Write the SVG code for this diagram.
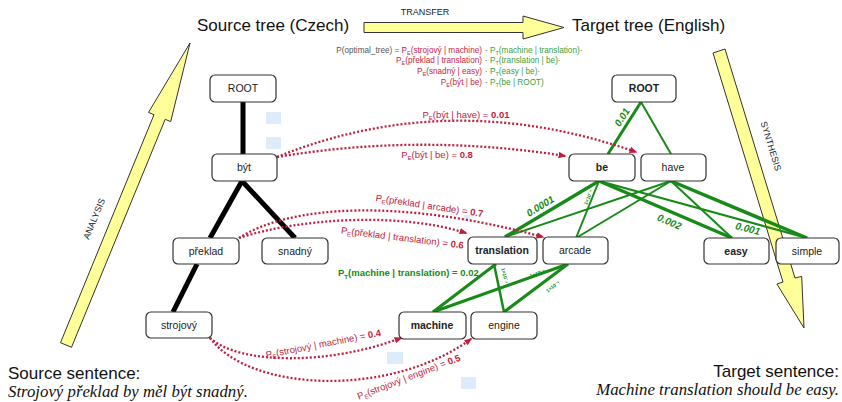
<svg xmlns="http://www.w3.org/2000/svg" width="842" height="402" viewBox="0 0 842 402">
<defs>
<style>
.node rect{fill:#fff;stroke:#333;stroke-width:1.2}
.node text{font-family:"Liberation Sans",Arial,sans-serif;font-size:10.5px;fill:#222;text-anchor:middle}
.b text{font-weight:bold}
.big{font-family:"Liberation Sans",Arial,sans-serif;font-size:17px;fill:#111}
.it{font-family:"Liberation Serif","Times New Roman",serif;font-style:italic;font-size:16.8px;fill:#111}
.sm{font-family:"Liberation Sans",Arial,sans-serif;font-size:9px;fill:#222}
.f{font-family:"Liberation Sans",Arial,sans-serif;font-size:8.2px}
.fr{fill:#c4264a}
.fg{fill:#3a9e3a}
.fk{fill:#555}
.rl{font-family:"Liberation Sans",Arial,sans-serif;font-size:9.5px;fill:#bf1e3f;text-anchor:middle}
.gl{font-family:"Liberation Sans",Arial,sans-serif;font-size:10px;font-weight:bold;font-style:italic;fill:#178a17;text-anchor:middle}
.gs{font-family:"Liberation Sans",Arial,sans-serif;font-size:5px;font-weight:bold;fill:#178a17;text-anchor:middle}
.blk{stroke:#000;stroke-width:5;fill:none}
.gr{stroke:#178a17;fill:none}
.dot{stroke:#bf1e3f;stroke-width:2.3;stroke-dasharray:2 2;fill:none;marker-end:url(#ra)}
.yel{fill:#ffff99;stroke:#333;stroke-width:1}
.sq{fill:#deebfa}
</style>
<marker id="ra" viewBox="0 0 10 10" refX="8" refY="5" markerWidth="8" markerHeight="8" markerUnits="userSpaceOnUse" orient="auto">
<path d="M0,1 L10,5 L0,9 z" fill="#bf1e3f"/>
</marker>
</defs>
<rect width="842" height="402" fill="#fff"/>

<!-- big yellow arrows -->
<g id="arrows">
<polygon class="yel" points="60.5,342.7 154,114.7 148.5,112.4 190,43 170.7,121.6 165.2,119.3 71.5,347.3"/>
<polygon class="yel" points="364,22.5 523,22.5 523,16 564,27.5 523,39 523,32.5 364,32.5"/>
<polygon class="yel" points="713,53 725,49 795,278 801.7,276.4 804,328 776.9,284 783,282"/>
<text class="sm" transform="translate(97,220) rotate(-67.7)" text-anchor="middle">ANALYSIS</text>
<text class="sm" x="425" y="15" text-anchor="middle">TRANSFER</text>
<text class="sm" transform="translate(768,147) rotate(73)" text-anchor="middle">SYNTHESIS</text>
</g>

<!-- headings -->
<text class="big" x="197" y="31">Source tree (Czech)</text>
<text class="big" x="572" y="31" font-size="17.5">Target tree (English)</text>
<text class="big" x="8" y="379">Source sentence:</text>
<text class="it" x="8" y="397">Strojový překlad by měl být snadný.</text>
<text class="big" x="839" y="377" text-anchor="end">Target sentence:</text>
<text class="it" x="839" y="395" text-anchor="end">Machine translation should be easy.</text>

<!-- formula -->
<g id="formula" class="f">
<text x="482" y="52.5" text-anchor="end"><tspan class="fk">P(optimal_tree) =  </tspan><tspan class="fr">P<tspan font-size="5.5" dy="2">E</tspan><tspan dy="-2">(strojový | machine)</tspan></tspan></text>
<text x="482" y="63.2" text-anchor="end" class="fr">P<tspan font-size="5.5" dy="2">E</tspan><tspan dy="-2">(překlad | translation)</tspan></text>
<text x="482" y="73.9" text-anchor="end" class="fr">P<tspan font-size="5.5" dy="2">E</tspan><tspan dy="-2">(snadný | easy)</tspan></text>
<text x="482" y="84.6" text-anchor="end" class="fr">P<tspan font-size="5.5" dy="2">E</tspan><tspan dy="-2">(být | be)</tspan></text>
<text x="486" y="52.5" class="fk" text-anchor="middle">·</text>
<text x="486" y="63.2" class="fk" text-anchor="middle">·</text>
<text x="486" y="73.9" class="fk" text-anchor="middle">·</text>
<text x="486" y="84.6" class="fk" text-anchor="middle">·</text>
<text x="490" y="52.5" class="fg">P<tspan font-size="5.5" dy="2">T</tspan><tspan dy="-2">(machine | translation)·</tspan></text>
<text x="490" y="63.2" class="fg">P<tspan font-size="5.5" dy="2">T</tspan><tspan dy="-2">(translation | be)·</tspan></text>
<text x="490" y="73.9" class="fg">P<tspan font-size="5.5" dy="2">T</tspan><tspan dy="-2">(easy | be)·</tspan></text>
<text x="490" y="84.6" class="fg">P<tspan font-size="5.5" dy="2">T</tspan><tspan dy="-2">(be | ROOT)</tspan></text>
</g>

<!-- light squares -->
<g id="marks">
<rect class="sq" x="266" y="112" width="15" height="12"/>
<rect class="sq" x="266" y="137" width="15" height="12"/>
<rect class="sq" x="387" y="352" width="16" height="12"/>
<rect class="sq" x="461" y="377" width="15" height="12"/>
<rect class="sq" x="464" y="215" width="6" height="6"/>
</g>

<!-- connectors -->
<g id="connectors">
<path class="blk" d="M243,102 L243,154"/>
<path class="blk" d="M242,181 L210,238"/>
<path class="blk" d="M242,181 L295,238"/>
<path class="blk" d="M197,264 L173,312"/>

<path class="gr" stroke-width="3" d="M641,102 L608,154"/>
<path class="gr" stroke-width="2" d="M641,102 L671,154"/>
<path class="gr" stroke-width="3.5" d="M599,181 L505,237"/>
<path class="gr" stroke-width="2" d="M599,181 L576,238"/>
<path class="gr" stroke-width="3.5" d="M599,181 L732,238"/>
<path class="gr" stroke-width="2.2" d="M599,181 L807,238"/>
<path class="gr" stroke-width="2" d="M671,181 L505,237"/>
<path class="gr" stroke-width="2" d="M671,181 L576,238"/>
<path class="gr" stroke-width="2" d="M671,181 L732,238"/>
<path class="gr" stroke-width="3.5" d="M671,181 L807,238"/>
<path class="gr" stroke-width="3" d="M496,264 L433,312"/>
<path class="gr" stroke-width="2.5" d="M494,264 L504,312"/>
<path class="gr" stroke-width="3" d="M568,264 L433,312"/>
<path class="gr" stroke-width="3" d="M568,264 L504,312"/>

<text class="gl" transform="translate(625,119) rotate(-57.6)">0.01</text>
<text class="gl" transform="translate(542,209) rotate(-31)">0.0001</text>
<text class="gl" transform="translate(668,225) rotate(23)">0.002</text>
<text class="gl" transform="translate(747,232) rotate(14)">0.001</text>
<text class="gs" transform="translate(590,198) rotate(-68)">1×10⁻⁴</text>
<text class="gs" transform="translate(503,276) rotate(78)">1×10⁻⁴</text>
<text class="gs" transform="translate(538,275) rotate(-19.6)">1×10⁻⁴</text>
<text class="gs" transform="translate(554,288) rotate(-36.9)">1×10⁻⁴</text>
<text x="338" y="276" font-family="Liberation Sans,Arial,sans-serif" font-size="9.5" font-weight="bold" fill="#178a17">P<tspan font-size="6" dy="2.5">T</tspan><tspan dy="-2.5">(machine | translation) = 0.02</tspan></text>

<path class="dot" d="M277,157 Q450,87 636,152"/>
<path class="dot" d="M277,157 Q420,133 565,156"/>
<path class="dot" d="M239,238 C290,205 400,198 543,237"/>
<path class="dot" d="M239,238 C300,218 400,212 466,233"/>
<path class="dot" d="M210,338 C240,365 330,365 401,338"/>
<path class="dot" d="M210,338 C250,392 390,398 471,339"/>

<text class="rl" x="466" y="118">P<tspan font-size="6" dy="2">E</tspan><tspan dy="-2">(být | have) = </tspan><tspan font-weight="bold">0.01</tspan></text>
<text class="rl" x="437" y="158">P<tspan font-size="6" dy="2">E</tspan><tspan dy="-2">(být | be) = </tspan><tspan font-weight="bold">0.8</tspan></text>
<text class="rl" transform="translate(429,209) rotate(8.5)">P<tspan font-size="6" dy="2">E</tspan><tspan dy="-2">(překlad | arcade) = </tspan><tspan font-weight="bold">0.7</tspan></text>
<text class="rl" transform="translate(402,241) rotate(7)">P<tspan font-size="6" dy="2">E</tspan><tspan dy="-2">(překlad | translation) = </tspan><tspan font-weight="bold">0.6</tspan></text>
<text class="rl" transform="translate(324,347) rotate(-11)">P<tspan font-size="6" dy="2">E</tspan><tspan dy="-2">(strojový | machine) = </tspan><tspan font-weight="bold">0.4</tspan></text>
<text class="rl" transform="translate(410,380) rotate(-21)">P<tspan font-size="6" dy="2">E</tspan><tspan dy="-2">(strojový | engine) = </tspan><tspan font-weight="bold">0.5</tspan></text>
</g>

<!-- source nodes -->
<g id="s-root" class="node"><rect x="210" y="75" width="66" height="27" rx="5"/><text x="243" y="92">ROOT</text></g>
<g id="s-byt" class="node"><rect x="212" y="154" width="65" height="27" rx="5"/><text x="244" y="171">být</text></g>
<g id="s-preklad" class="node"><rect x="173" y="238" width="66" height="26" rx="5"/><text x="206" y="255">překlad</text></g>
<g id="s-snadny" class="node"><rect x="262" y="238" width="66" height="26" rx="5"/><text x="295" y="255">snadný</text></g>
<g id="s-strojovy" class="node"><rect x="146" y="312" width="66" height="26" rx="5"/><text x="179" y="329">strojový</text></g>

<!-- target nodes -->
<g id="t-root" class="node b"><rect x="612" y="75" width="64" height="27" rx="5"/><text x="644" y="92">ROOT</text></g>
<g id="t-be" class="node b"><rect x="569" y="154" width="66" height="27" rx="5"/><text x="602" y="171">be</text></g>
<g id="t-have" class="node"><rect x="641" y="154" width="65" height="27" rx="5"/><text x="673" y="171">have</text></g>
<g id="t-translation" class="node b"><rect x="468" y="237" width="69" height="27" rx="5"/><text x="502" y="254">translation</text></g>
<g id="t-arcade" class="node"><rect x="543" y="237" width="65" height="27" rx="5"/><text x="575" y="254">arcade</text></g>
<g id="t-easy" class="node b"><rect x="704" y="238" width="65" height="26" rx="5"/><text x="736" y="255">easy</text></g>
<g id="t-simple" class="node"><rect x="776" y="238" width="63" height="26" rx="5"/><text x="807" y="255">simple</text></g>
<g id="t-machine" class="node b"><rect x="399" y="312" width="67" height="27" rx="5"/><text x="432" y="329">machine</text></g>
<g id="t-engine" class="node"><rect x="471" y="312" width="66" height="27" rx="5"/><text x="504" y="329">engine</text></g>
</svg>
